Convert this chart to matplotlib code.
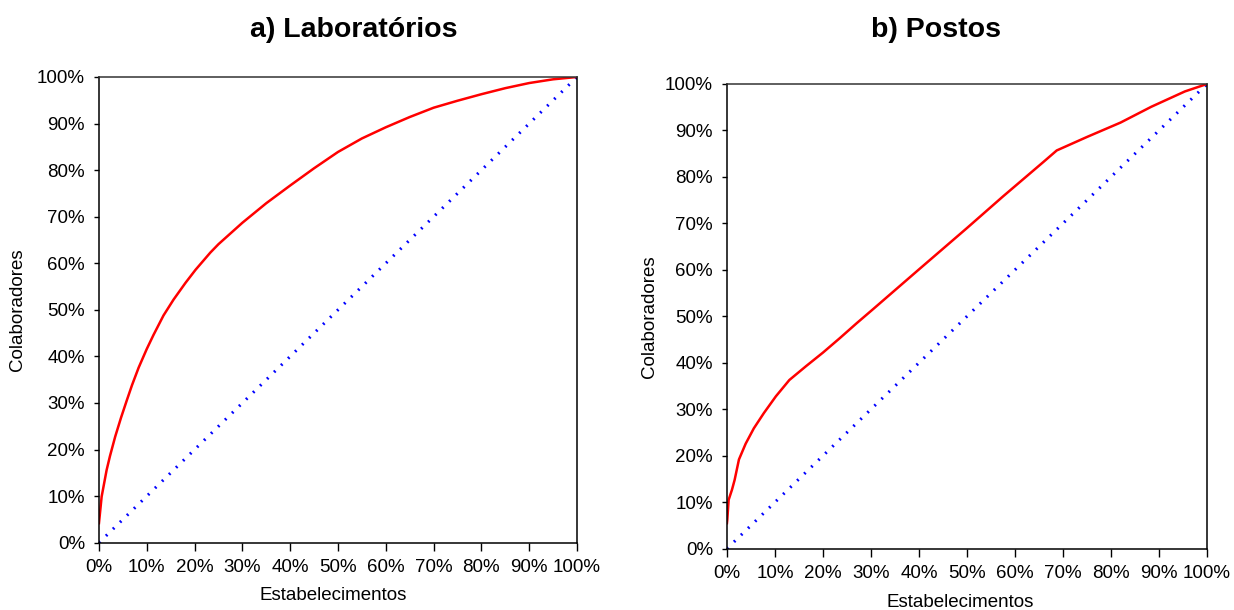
import matplotlib
matplotlib.use("Agg")
import matplotlib.pyplot as plt
import numpy as np

plt.rcParams["font.family"] = ["Liberation Sans", "DejaVu Sans"]

# a) Laboratórios - curva de concentração (% estabelecimentos x % colaboradores)
lab_x = [0, 0.56, 1.6, 2.3, 3.4, 4.6, 5.8, 6.9, 8.3, 10, 11.4, 13.5, 15.6, 18.1,
         20.2, 23.3, 25, 30, 35, 40, 45, 50, 55, 60, 65, 70, 75, 80, 85, 90, 95, 100]
lab_y = [4.2, 9.9, 15.6, 18.6, 22.8, 26.8, 30.5, 33.8, 37.6, 41.6, 44.6, 48.8, 52.2, 55.8,
         58.6, 62.3, 64.1, 68.7, 72.9, 76.7, 80.4, 83.9, 86.8, 89.2, 91.4, 93.4, 94.9,
         96.3, 97.6, 98.7, 99.5, 100]

# b) Postos
pos_x = [0, 0.07, 0.35, 1.05, 1.6, 2.5, 3.9, 5.6, 7.7, 10.2, 13, 16.5, 20, 23.5, 27,
         30.5, 40, 50, 57.5, 61.7, 65.9, 68.7, 75, 82, 88.4, 95.4, 100]
pos_y = [5.5, 6.2, 10.5, 12.7, 14.8, 19.2, 22.6, 25.9, 29.2, 32.8, 36.3, 39.3, 42.2,
         45.3, 48.5, 51.6, 60.1, 69.0, 75.8, 79.5, 83.2, 85.7, 88.6, 91.7, 95.1, 98.4, 100]

# linha de igualdade
diag = [0, 100]

ticks = np.arange(0, 101, 10)
tick_labels = [f"{t}%" for t in ticks]

fig = plt.figure(figsize=(12.34, 6.10), dpi=100)
ax1 = fig.add_axes([0.0802, 0.1103, 0.3874, 0.7635])
ax2 = fig.add_axes([0.5891, 0.1005, 0.3890, 0.7618])

panels = [
    (ax1, lab_x, lab_y, "a) Laboratórios", 0.287, (0.49, -0.095), (-0.153, 0.5)),
    (ax2, pos_x, pos_y, "b) Postos", 0.7585, (0.485, -0.098), (-0.144, 0.5)),
]

for ax, xs, ys, title, tx, xl, yl in panels:
    ax.plot(diag, diag, color="#0000ff", lw=2.2, linestyle=(0, (0.6, 2.6)),
            solid_capstyle="butt")
    ax.plot(xs, ys, color="#ff0000", lw=1.8)
    ax.set_xlim(0, 100)
    ax.set_ylim(0, 100)
    ax.set_xticks(ticks)
    ax.set_xticklabels(tick_labels)
    ax.set_yticks(ticks)
    ax.set_yticklabels(tick_labels)
    ax.tick_params(axis="x", direction="out", length=5.5, width=1, pad=6, labelsize=13.5)
    ax.tick_params(axis="y", direction="out", length=3.6, width=1, pad=6.5, labelsize=13.5)
    for sp in ax.spines.values():
        sp.set_linewidth(1.1)
        sp.set_color("black")
    ax.spines["top"].set_color("#333333")
    ax.set_xlabel("Estabelecimentos", fontsize=13.5)
    ax.set_ylabel("Colaboradores", fontsize=13.5)
    ax.xaxis.set_label_coords(*xl)
    ax.yaxis.set_label_coords(*yl)
    fig.text(tx, 0.951, title, fontsize=20.5, fontweight="bold",
             ha="center", va="center")

fig.savefig("out.png", dpi=100, facecolor="white")
